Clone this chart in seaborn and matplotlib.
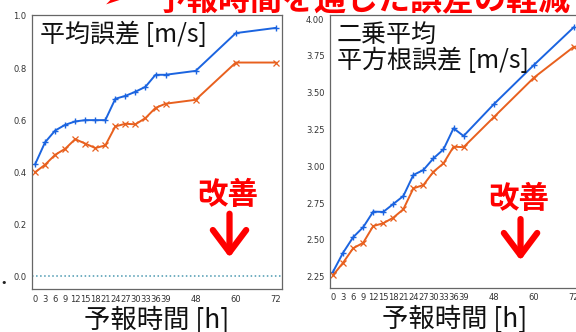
import matplotlib
matplotlib.use("Agg")
import matplotlib.pyplot as plt
import seaborn as sns
import pandas as pd

# ---- data ----
hours = [0, 3, 6, 9, 12, 15, 18, 21, 24, 27, 30, 33, 36, 39, 48, 60, 72]

mae_before = [0.430, 0.515, 0.560, 0.582, 0.595, 0.600, 0.600, 0.600, 0.682,
              0.693, 0.709, 0.728, 0.774, 0.774, 0.789, 0.934, 0.954]
mae_after = [0.400, 0.429, 0.467, 0.490, 0.527, 0.510, 0.493, 0.503, 0.576,
             0.586, 0.584, 0.608, 0.647, 0.663, 0.678, 0.821, 0.821]

rmse_before = [2.284, 2.413, 2.518, 2.586, 2.692, 2.690, 2.744, 2.798, 2.941,
               2.975, 3.054, 3.115, 3.258, 3.206, 3.421, 3.688, 3.946]
rmse_after = [2.260, 2.345, 2.443, 2.480, 2.594, 2.613, 2.651, 2.708, 2.850,
              2.873, 2.963, 3.020, 3.133, 3.130, 3.333, 3.602, 3.813]

mae_ticks = [0.0, 0.2, 0.4, 0.6, 0.8, 1.0]
rmse_ticks = [2.25, 2.50, 2.75, 3.00, 3.25, 3.50, 3.75, 4.00]

title_text = "予報時間を通した誤差の軽減"
mae_label = "平均誤差 [m/s]"
rmse_label = "二乗平均\n平方根誤差 [m/s]"
x_label = "予報時間 [h]"
improve_text = "改善"

BLUE = "#1b64e0"
ORANGE = "#e8601e"
RED = "#ff0000"
JP = ["Noto Sans CJK JP", "DejaVu Sans"]

sns.set_style("white")
plt.rcParams["font.family"] = ["DejaVu Sans", "Noto Sans CJK JP"]

df_mae = pd.DataFrame({"h": hours, "before": mae_before, "after": mae_after})
df_rmse = pd.DataFrame({"h": hours, "before": rmse_before, "after": rmse_after})

fig = plt.figure(figsize=(5.76, 3.32), dpi=100)
ax1 = fig.add_axes([0.0556, 0.1295, 0.434, 0.825])
ax2 = fig.add_axes([0.573, 0.1334, 0.434, 0.821])


def draw_panel(ax, df, yticks, ylim, fmt):
    sns.lineplot(data=df, x="h", y="before", ax=ax, color=BLUE, lw=1.4,
                 marker="+", markersize=5, markeredgecolor=BLUE, markeredgewidth=1)
    sns.lineplot(data=df, x="h", y="after", ax=ax, color=ORANGE, lw=1.4,
                 marker="x", markersize=4, markeredgecolor=ORANGE, markeredgewidth=0.9)
    ax.set_xlim(-0.9, 73.8)
    ax.set_ylim(*ylim)
    ax.set_xticks(hours)
    ax.set_xticklabels([str(h) for h in hours])
    ax.set_yticks(yticks)
    ax.set_yticklabels([fmt.format(v) for v in yticks])
    ax.tick_params(axis="both", labelsize=6, length=2.5, width=0.6,
                   colors="#333333", pad=1.5)
    for sp in ax.spines.values():
        sp.set_color("#666666")
        sp.set_linewidth(0.9)
    ax.set_ylabel("")
    ax.set_xlabel(x_label, family=JP, fontsize=19, labelpad=2, color="#111111")


draw_panel(ax1, df_mae, mae_ticks, (-0.048, 1.003), "{:.1f}")
ax1.axhline(0, color="#4a98b0", ls=":", lw=1.1)
draw_panel(ax2, df_rmse, rmse_ticks, (2.175, 4.027), "{:.2f}")

# panel titles inside the axes
ax1.text(0.032, 0.975, mae_label, transform=ax1.transAxes, ha="left", va="top",
         family=JP, fontsize=18, color="#111111")
ax2.text(0.028, 0.975, rmse_label, transform=ax2.transAxes, ha="left", va="top",
         family=JP, fontsize=18, color="#111111", linespacing=1.0)

# "改善" with down arrow
for ax, tx, ty, ay0, ay1 in [(ax1, 0.784, 0.343, 0.285, 0.105),
                             (ax2, 0.756, 0.325, 0.262, 0.090)]:
    ax.text(tx, ty, improve_text, transform=ax.transAxes, ha="center", va="center",
            family=JP, fontsize=22, fontweight="bold", color=RED)
    ax.annotate("", xy=(tx + 0.006, ay1), xytext=(tx + 0.006, ay0),
                xycoords="axes fraction", textcoords="axes fraction",
                arrowprops=dict(arrowstyle="->,head_length=0.8,head_width=0.6",
                                mutation_scale=20, color=RED, lw=4.5))

# slide title, cut off at the top of the screenshot
fig.text(0.178, 1.0, "➢", ha="left", va="center", family=["DejaVu Sans"],
         fontsize=20, color=RED)
fig.text(0.268, 0.998, title_text, ha="left", va="center", family=JP,
         fontsize=23, fontweight="bold", color=RED)
# slide bullet at the left edge
fig.text(0.0, 0.148, "•", ha="left", va="center", fontsize=8, color="#222222")

plt.savefig("out.png", dpi=100)
